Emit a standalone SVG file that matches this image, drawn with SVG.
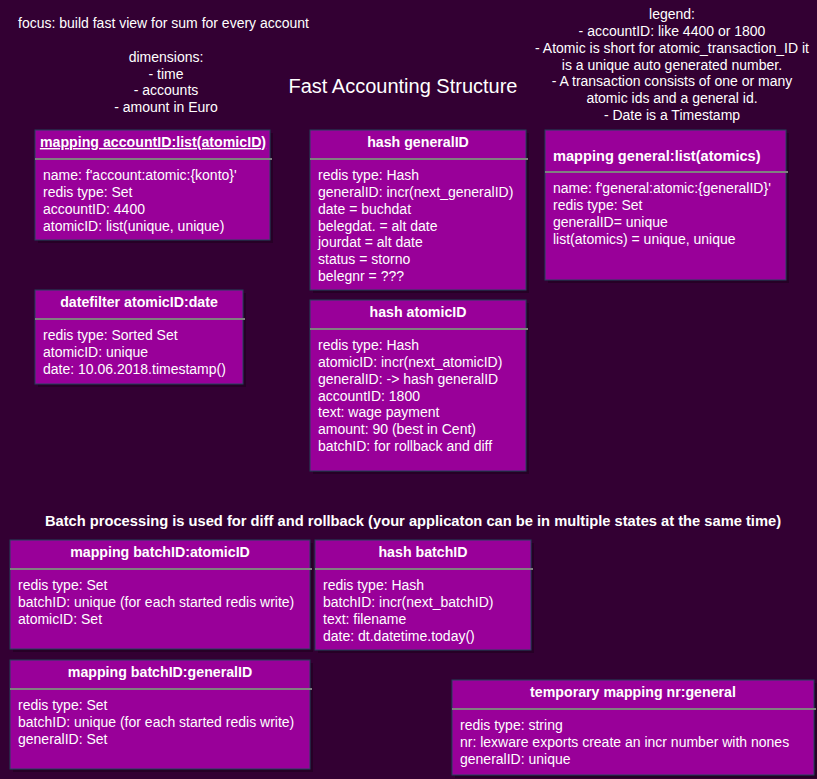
<svg xmlns="http://www.w3.org/2000/svg" width="817" height="779" viewBox="0 0 817 779">
<style>
text{font-family:"Liberation Sans",Arial,sans-serif;font-size:14px;fill:#ffffff}
.t{font-weight:bold;text-anchor:middle;font-size:14.2px}
.c{text-anchor:middle}
.box{fill:#990099;stroke:#23445d;stroke-width:1}
.sh{fill:#000000;opacity:0.25}
.sep{stroke:#808080;stroke-width:2}
</style>
<rect width="817" height="779" fill="#330033"/>
<g id="header">
<text x="18" y="28">focus: build fast view for sum for every account</text>
<text class="c" x="166" y="62">dimensions:</text>
<text class="c" x="166" y="79">- time</text>
<text class="c" x="166" y="95">- accounts</text>
<text class="c" x="166" y="112">- amount in Euro</text>
<text class="c" x="403" y="93" style="font-size:20px">Fast Accounting Structure</text>
<text class="c" x="672" y="19">legend:</text>
<text class="c" x="672" y="36">- accountID: like 4400 or 1800</text>
<text class="c" x="672" y="53">- Atomic is short for atomic_transaction_ID it</text>
<text class="c" x="672" y="70">is a unique auto generated number.</text>
<text class="c" x="672" y="86">- A transaction consists of one or many</text>
<text class="c" x="672" y="103">atomic ids and a general id.</text>
<text class="c" x="672" y="120">- Date is a Timestamp</text>
<text class="t" x="413" y="526" style="font-size:14.7px">Batch processing is used for diff and rollback (your applicaton can be in multiple states at the same time)</text>
</g>
<g id="connectors"></g>
<g id="mapping-accountID">
<rect class="sh" x="38" y="133" width="235" height="110"/>
<rect class="box" x="35" y="130" width="235" height="110"/>
<line class="sep" x1="35" y1="159" x2="272" y2="159"/>
<text class="t" x="153" y="147" text-decoration="underline">mapping accountID:list(atomicID)</text>
<text x="43" y="180">name: f'account:atomic:{konto}'</text>
<text x="43" y="197">redis type: Set</text>
<text x="43" y="214">accountID: 4400</text>
<text x="43" y="231">atomicID: list(unique, unique)</text>
</g>
<g id="hash-generalID">
<rect class="sh" x="313" y="133" width="216" height="160"/>
<rect class="box" x="310" y="130" width="216" height="160"/>
<line class="sep" x1="310" y1="159" x2="528" y2="159"/>
<text class="t" x="418" y="147">hash generalID</text>
<text x="318" y="180">redis type: Hash</text>
<text x="318" y="197">generalID: incr(next_generalID)</text>
<text x="318" y="214">date = buchdat</text>
<text x="318" y="231">belegdat. = alt date</text>
<text x="318" y="247">jourdat = alt date</text>
<text x="318" y="264">status = storno</text>
<text x="318" y="281">belegnr = ???</text>
</g>
<g id="mapping-general">
<rect class="sh" x="548" y="133" width="241" height="150"/>
<rect class="box" x="545" y="130" width="241" height="150"/>
<line class="sep" x1="545" y1="172" x2="788" y2="172"/>
<text class="t" x="553" y="161" style="text-anchor:start;font-size:14.6px">mapping general:list(atomics)</text>
<text x="553" y="193">name: f'general:atomic:{generalID}'</text>
<text x="553" y="210">redis type: Set</text>
<text x="553" y="227">generalID= unique</text>
<text x="553" y="244">list(atomics) = unique, unique</text>
</g>
<g id="datefilter">
<rect class="sh" x="38" y="293" width="208" height="94"/>
<rect class="box" x="35" y="290" width="208" height="94"/>
<line class="sep" x1="35" y1="319" x2="245" y2="319"/>
<text class="t" x="139" y="307">datefilter atomicID:date</text>
<text x="43" y="340">redis type: Sorted Set</text>
<text x="43" y="357">atomicID: unique</text>
<text x="43" y="374">date: 10.06.2018.timestamp()</text>
</g>
<g id="hash-atomicID">
<rect class="sh" x="313" y="303" width="216" height="171"/>
<rect class="box" x="310" y="300" width="216" height="171"/>
<line class="sep" x1="310" y1="329" x2="528" y2="329"/>
<text class="t" x="418" y="317">hash atomicID</text>
<text x="318" y="350">redis type: Hash</text>
<text x="318" y="367">atomicID: incr(next_atomicID)</text>
<text x="318" y="384">generalID: -&gt; hash generalID</text>
<text x="318" y="401">accountID: 1800</text>
<text x="318" y="417">text: wage payment</text>
<text x="318" y="434">amount: 90 (best in Cent)</text>
<text x="318" y="451">batchID: for rollback and diff</text>
</g>
<g id="mapping-batchID-atomicID">
<rect class="sh" x="13" y="543" width="300" height="109"/>
<rect class="box" x="10" y="540" width="300" height="109"/>
<line class="sep" x1="10" y1="569" x2="312" y2="569"/>
<text class="t" x="160" y="557">mapping batchID:atomicID</text>
<text x="18" y="590">redis type: Set</text>
<text x="18" y="607">batchID: unique (for each started redis write)</text>
<text x="18" y="624">atomicID: Set</text>
</g>
<g id="hash-batchID">
<rect class="sh" x="318" y="543" width="216" height="110"/>
<rect class="box" x="315" y="540" width="216" height="110"/>
<line class="sep" x1="315" y1="569" x2="533" y2="569"/>
<text class="t" x="423" y="557">hash batchID</text>
<text x="323" y="590">redis type: Hash</text>
<text x="323" y="607">batchID: incr(next_batchID)</text>
<text x="323" y="624">text: filename</text>
<text x="323" y="641">date: dt.datetime.today()</text>
</g>
<g id="mapping-batchID-generalID">
<rect class="sh" x="13" y="663" width="300" height="109"/>
<rect class="box" x="10" y="660" width="300" height="109"/>
<line class="sep" x1="10" y1="689" x2="312" y2="689"/>
<text class="t" x="160" y="677">mapping batchID:generalID</text>
<text x="18" y="710">redis type: Set</text>
<text x="18" y="727">batchID: unique (for each started redis write)</text>
<text x="18" y="744">generalID: Set</text>
</g>
<g id="temporary-mapping">
<rect class="sh" x="455" y="683" width="362" height="95"/>
<rect class="box" x="452" y="680" width="362" height="95"/>
<line class="sep" x1="452" y1="709" x2="816" y2="709"/>
<text class="t" x="633" y="697">temporary mapping nr:general</text>
<text x="460" y="730">redis type: string</text>
<text x="460" y="747">nr: lexware exports create an incr number with nones</text>
<text x="460" y="764">generalID: unique</text>
</g>
</svg>
